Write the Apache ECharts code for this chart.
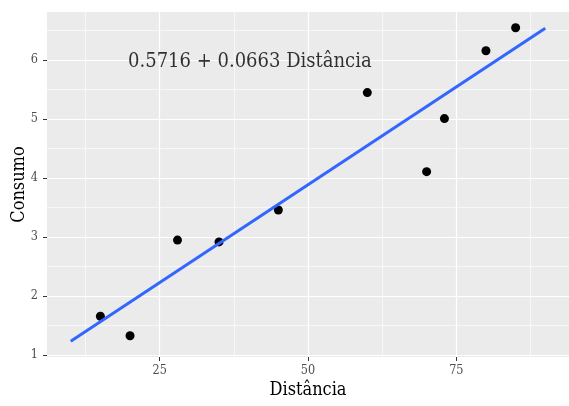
<!DOCTYPE html>
<html>
<head>
<meta charset="utf-8">
<script src="https://cdn.jsdelivr.net/npm/echarts@6/dist/echarts.min.js"></script>
<style>
  html, body { margin: 0; padding: 0; background: #ffffff; }
  #chart { width: 569px; height: 406px; }
</style>
</head>
<body>
<div id="chart"></div>
<script>
// Observations: distance vs consumption
const distancia = [15, 20, 28, 35, 45, 60, 70, 73, 80, 85];
const consumo = [1.66, 1.33, 2.95, 2.92, 3.46, 5.45, 4.11, 5.01, 6.16, 6.55];

// Fitted linear model and the span it is drawn over
const intercept = 0.5716;
const slope = 0.0663;
const fitRange = [10, 90];

// Axis ticks and grid lines
const xTicks = [25, 50, 75];
const xMinor = [12.5, 37.5, 62.5, 87.5];
const yTicks = [1, 2, 3, 4, 5, 6];
const yMinor = [1.5, 2.5, 3.5, 4.5, 5.5, 6.5];

// Position of the equation label
const eqPos = [40.2, 5.97];

const FONT = '"DejaVu Serif Condensed", "DejaVu Serif", serif';

const points = distancia.map((d, i) => [d, consumo[i]]);
const fitLine = fitRange.map(x => [x, intercept + slope * x]);
const eqText = intercept.toFixed(4) + ' + ' + slope.toFixed(4) + ' Distância';

const gridLines = [];
xMinor.forEach(v => gridLines.push({ xAxis: v, lineStyle: { width: 0.6 } }));
yMinor.forEach(v => gridLines.push({ yAxis: v, lineStyle: { width: 0.6 } }));
xTicks.forEach(v => gridLines.push({ xAxis: v, lineStyle: { width: 1.2 } }));
yTicks.forEach(v => gridLines.push({ yAxis: v, lineStyle: { width: 1.2 } }));

const chart = echarts.init(document.getElementById('chart'), null, { renderer: 'canvas' });
chart.setOption({
  animation: false,
  backgroundColor: '#ffffff',
  grid: {
    left: 47, right: 0, top: 12, bottom: 49,
    outerBoundsMode: 'none', containLabel: false,
    show: true, backgroundColor: '#EBEBEB', borderWidth: 0
  },
  xAxis: {
    type: 'value', min: 6, max: 94,
    name: 'Distância', nameLocation: 'middle', nameGap: 24, nameMoveOverlap: false,
    nameTextStyle: { fontFamily: FONT, fontSize: 18, color: '#000' },
    axisLine: { show: false },
    axisTick: { show: true, length: 4, customValues: xTicks, lineStyle: { color: '#333', width: 1 } },
    axisLabel: { customValues: xTicks, fontFamily: FONT, fontSize: 12.5, color: '#4D4D4D', margin: 7 },
    splitLine: { show: false }
  },
  yAxis: {
    type: 'value', min: 0.969, max: 6.816,
    name: 'Consumo', nameLocation: 'middle', nameGap: 19, nameRotate: 90, nameMoveOverlap: false,
    nameTextStyle: { fontFamily: FONT, fontSize: 18, color: '#000' },
    axisLine: { show: false },
    axisTick: { show: true, length: 4, customValues: yTicks, lineStyle: { color: '#333', width: 1 } },
    axisLabel: { customValues: yTicks, fontFamily: FONT, fontSize: 12.5, color: '#4D4D4D', margin: 9 },
    splitLine: { show: false }
  },
  series: [
    {
      name: 'grid', type: 'line', data: [], z: 0, silent: true,
      markLine: {
        z: 0, silent: true, symbol: 'none', animation: false,
        label: { show: false },
        lineStyle: { color: '#ffffff', type: 'solid' },
        data: gridLines
      }
    },
    {
      name: 'pontos', type: 'scatter', data: points, z: 3,
      symbol: 'circle', symbolSize: 9,
      itemStyle: { color: '#000000', opacity: 1 }
    },
    {
      name: 'ajuste', type: 'line', data: fitLine, z: 4,
      showSymbol: false, symbol: 'none',
      lineStyle: { color: '#3366FF', width: 3 }
    },
    {
      name: 'equacao', type: 'scatter', data: [eqPos], z: 5,
      symbolSize: 0, silent: true,
      label: {
        show: true, position: 'inside', formatter: eqText,
        fontFamily: FONT, fontSize: 20, color: '#000'
      }
    }
  ]
});
</script>
</body>
</html>
